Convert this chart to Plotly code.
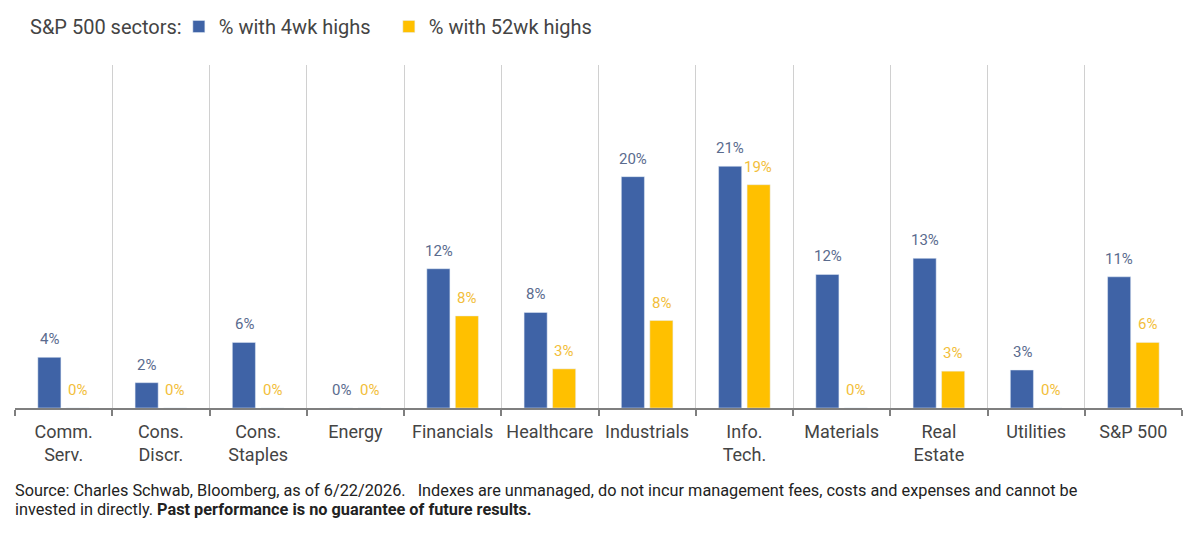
import plotly.graph_objects as go

categories = ["Comm.<br>Serv.", "Cons.<br>Discr.", "Cons.<br>Staples", "Energy", "Financials",
              "Healthcare", "Industrials", "Info.<br>Tech.", "Materials", "Real<br>Estate",
              "Utilities", "S&P 500"]
pct_4wk = [4.4, 2.2, 5.7, 0.0, 12.1, 8.3, 20.1, 21.0, 11.6, 13.0, 3.3, 11.4]
pct_52wk = [0.0, 0.0, 0.0, 0.0, 8.0, 3.4, 7.6, 19.4, 0.0, 3.2, 0.0, 5.7]

BLUE = "#3F63A6"
GOLD = "#FFC000"
BLUE_TXT = "#5A6B8E"
GOLD_TXT = "#F2BE3A"
FONT = "Roboto, 'Open Sans', sans-serif"

fig = go.Figure()
fig.add_trace(go.Bar(x=categories, y=pct_4wk, name="% with 4wk highs", marker_color=BLUE))
fig.add_trace(go.Bar(x=categories, y=pct_52wk, name="% with 52wk highs", marker_color=GOLD))

for c, v in zip(categories, pct_4wk):
    fig.add_annotation(x=c, y=v, text=f"{v:.0f}%", showarrow=False, xshift=-14, yshift=7,
                       yanchor="bottom", font=dict(size=15, color=BLUE_TXT, family=FONT))
for c, v in zip(categories, pct_52wk):
    fig.add_annotation(x=c, y=v, text=f"{v:.0f}%", showarrow=False, xshift=14, yshift=7,
                       yanchor="bottom", font=dict(size=15, color=GOLD_TXT, family=FONT))

SRC_FONT = dict(size=16.3, color="#222222", family="'Liberation Sans Narrow', 'Arial Narrow', Roboto, sans-serif")
fig.add_annotation(
    xref="paper", yref="paper", x=-0.002, y=-0.207, xanchor="left", yanchor="top", align="left",
    showarrow=False,
    text=("Source: Charles Schwab, Bloomberg, as of 6/22/2026.&nbsp;&nbsp; Indexes are unmanaged, do not incur "
          "management fees, costs and expenses and cannot be"),
    font=SRC_FONT,
)
fig.add_annotation(
    xref="paper", yref="paper", x=-0.002, y=-0.263, xanchor="left", yanchor="top", align="left",
    showarrow=False,
    text="invested in directly. <b>Past performance is no guarantee of future results.</b>",
    font=SRC_FONT,
)
# legend heading
fig.add_annotation(
    xref="paper", yref="paper", x=0.011, y=1.11, xanchor="left", yanchor="middle",
    showarrow=False, text="S&P 500 sectors:",
    font=dict(size=20, color="#444444", family=FONT),
)

fig.update_layout(
    width=1200, height=538,
    margin=dict(l=15, r=18, t=65, b=130, autoexpand=False),
    paper_bgcolor="white", plot_bgcolor="white",
    barmode="group", bargap=0.414, bargroupgap=0.19,
    font=dict(family=FONT, color="#444444"),
    showlegend=True,
    legend=dict(
        orientation="h", x=0.1404, y=0.987, xref="paper", yref="container",
        xanchor="left", yanchor="top",
        font=dict(size=20, color="#444444"),
        itemwidth=30, traceorder="normal",
        entrywidth=165, entrywidthmode="pixels",
    ),
)
fig.update_xaxes(
    tickson="boundaries", showgrid=True, gridcolor="#D0D0D0", gridwidth=1,
    showline=True, linecolor="#7F7F7F", linewidth=2,
    ticks="outside", ticklen=6, tickcolor="#7F7F7F", tickwidth=2,
    tickfont=dict(size=18, color="#444444"), ticklabelstandoff=6,
)
fig.update_yaxes(range=[0, 29.8], visible=False, showgrid=False, zeroline=False)

fig.write_html("out.html")
